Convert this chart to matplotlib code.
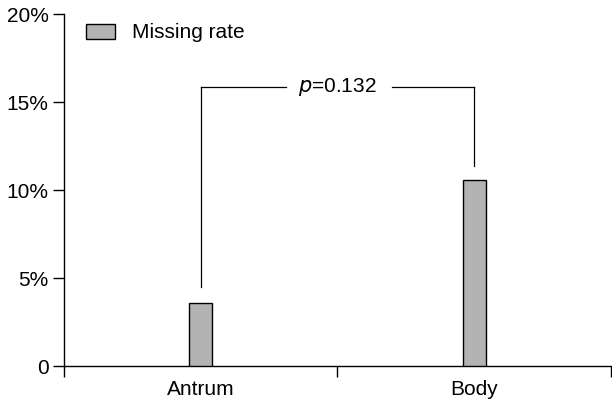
import numpy as np
import matplotlib.pyplot as plt
from matplotlib.ticker import FuncFormatter

plt.rcParams['font.family'] = ['Liberation Sans', 'DejaVu Sans']

sites = ['Antrum', 'Body']
missing_rate = [3.6, 10.6]
p_text = '$\\it{p}$=0.132'
bracket_y = 15.85
bracket_feet = [4.5, 11.35]

fs = 15

fig = plt.figure(figsize=(6.12, 4.03), dpi=100)
ax = fig.add_axes([0.1046, 0.0918, 0.8935, 0.873])

x = np.arange(len(sites))
ax.bar(x, missing_rate, width=0.084, color='#b3b3b3', edgecolor='black',
       linewidth=1.0, label='Missing rate', zorder=3)

# significance bracket
ax.plot([x[0], x[0]], [bracket_feet[0], bracket_y], color='black', lw=0.9)
ax.plot([x[1], x[1]], [bracket_feet[1], bracket_y], color='black', lw=0.9)
ax.plot([x[0], 0.312], [bracket_y, bracket_y], color='black', lw=0.9)
ax.plot([0.7, x[1]], [bracket_y, bracket_y], color='black', lw=0.9)
ax.text(0.5, bracket_y, p_text, ha='center', va='center', fontsize=fs)

ax.set_xlim(-0.5, 1.5)
ax.set_ylim(0, 20)
ax.set_xticks([-0.5, 0.5, 1.5])
ax.set_xticklabels([])
ax.set_xticks(x, minor=True)
ax.set_xticklabels(sites, minor=True, fontsize=fs)
ax.tick_params(axis='x', which='minor', length=0, pad=10)
ax.tick_params(axis='x', which='major', length=8, width=1, direction='out')
ax.set_yticks([0, 5, 10, 15, 20])
ax.yaxis.set_major_formatter(FuncFormatter(lambda v, _: '0' if v == 0 else f'{v:g}%'))
ax.tick_params(axis='y', length=8, width=1, direction='out', labelsize=fs, pad=3)

for s in ['top', 'right']:
    ax.spines[s].set_visible(False)
for s in ['left', 'bottom']:
    ax.spines[s].set_linewidth(1.0)

ax.legend(loc='upper left', frameon=False, fontsize=fs, handlelength=1.4,
          handleheight=0.75, bbox_to_anchor=(0.014, 1.015), handletextpad=0.8,
          borderaxespad=0.3)

fig.savefig('out.png', dpi=100)
